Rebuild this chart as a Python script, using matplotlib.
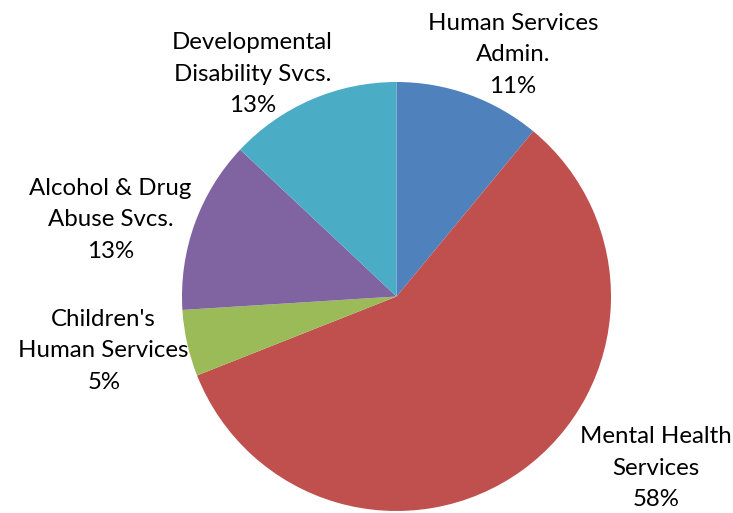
import matplotlib
matplotlib.use("Agg")
import matplotlib.pyplot as plt

categories = ["Human Services\nAdmin.", "Mental Health\nServices", "Children's\nHuman Services",
              "Alcohol & Drug\nAbuse Svcs.", "Developmental\nDisability Svcs."]
shares = [11, 58, 5, 13, 13]
colors = ["#4F81BD", "#C0504D", "#9BBB59", "#8064A2", "#4BACC6"]
# label centres in units of the pie radius
label_pos = [(0.543, 1.126), (1.21, -0.80), (-1.365, -0.254), (-1.333, 0.357), (-0.671, 1.037)]

W, H = 733, 513
R = 214.5
cx, cy = 396.5, 216.5  # pixel centre measured from bottom-left

fig = plt.figure(figsize=(W / 100, H / 100), dpi=100)
ax = fig.add_axes([0, 0, 1, 1])
ax.pie(shares, colors=colors, startangle=90, counterclock=False, radius=1.0,
       wedgeprops=dict(linewidth=0))
ax.set_xlim(-cx / R, (W - cx) / R)
ax.set_ylim(-cy / R, (H - cy) / R)
ax.set_aspect("equal")
ax.axis("off")

for name, val, (x, y) in zip(categories, shares, label_pos):
    ax.text(x, y, f"{name}\n{val}%", ha="center", va="center", fontsize=17.3,
            family=["Lato", "DejaVu Sans"], color="#000000", linespacing=1.62)

fig.savefig("out.png", dpi=100)
